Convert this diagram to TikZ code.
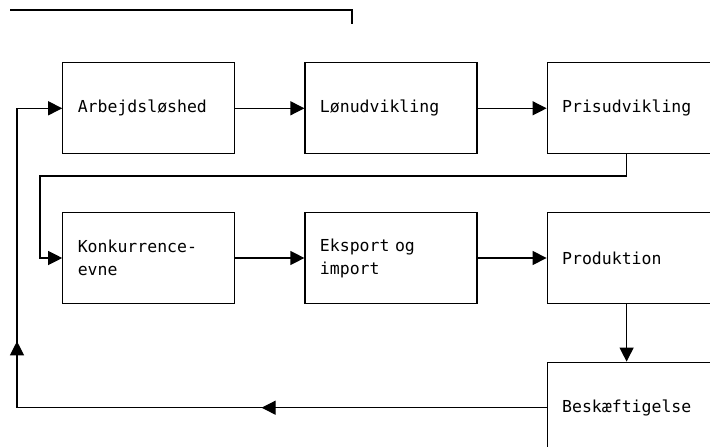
\documentclass[tikz,border=0pt]{standalone}
\usepackage{fontspec}
\setmonofont{DejaVu Sans Mono}
\usetikzlibrary{matrix,arrows.meta,decorations.markings}
\tikzset{
  box/.style={draw,rectangle,line width=1.2pt,text width=142pt,inner xsep=15pt,inner ysep=0pt,
    minimum height=91pt,align=left,font=\ttfamily\fontsize{16.5}{23}\selectfont},
  flow/.style={line width=1.2pt,-{Triangle[length=14pt,width=14pt]}},
  twoarrows/.style 2 args={decoration={markings,
      mark=at position #1 with {\arrow{Triangle[length=14pt,width=14pt]}},
      mark=at position #2 with {\arrow{Triangle[length=14pt,width=14pt]}}},
    postaction={decorate}},
}

\begin{document}
\begin{tikzpicture}[x=1pt,y=-1pt]
    \useasboundingbox (0,0) rectangle (710,447);
    \clip (0,0) rectangle (710,447);
    \draw[line width=1.2pt] (10,10) -- (352,10) -- (352,24);
    \matrix(flowchart)[matrix anchor=north west,inner sep=0pt,nodes={box},
        row sep=57.5pt,column sep=69pt] at (62,62) {
 \node(arb){Arbejdsløshed};           & \node(lon){Lønudvikling};     & \node(pris){Prisudvikling};  \\
 \node(konk){Konkurrence-\\evne};     & \node(eks){Eksport og\\import}; & \node(prod){Produktion};   \\
                                      &                               & \node(besk){Beskæftigelse};  \\
    };
    \coordinate(turn) at (40,176);
    \coordinate(lane) at (17,0);
    \draw[flow] (arb) -- (lon);
    \draw[flow] (lon) -- (pris);
    \draw[flow] ([xshift=80pt]pris.south west) |- (turn) |- (konk.west);
    \draw[flow] (konk) -- (eks);
    \draw[flow] (eks) -- (prod);
    \draw[flow] ([xshift=80pt]prod.south west) -- ([xshift=80pt]besk.north west);
    \draw[flow,twoarrows={285pt}{596pt}] (besk.west) -- (besk.west -| lane) |- (arb.west);
\end{tikzpicture}
\end{document}
